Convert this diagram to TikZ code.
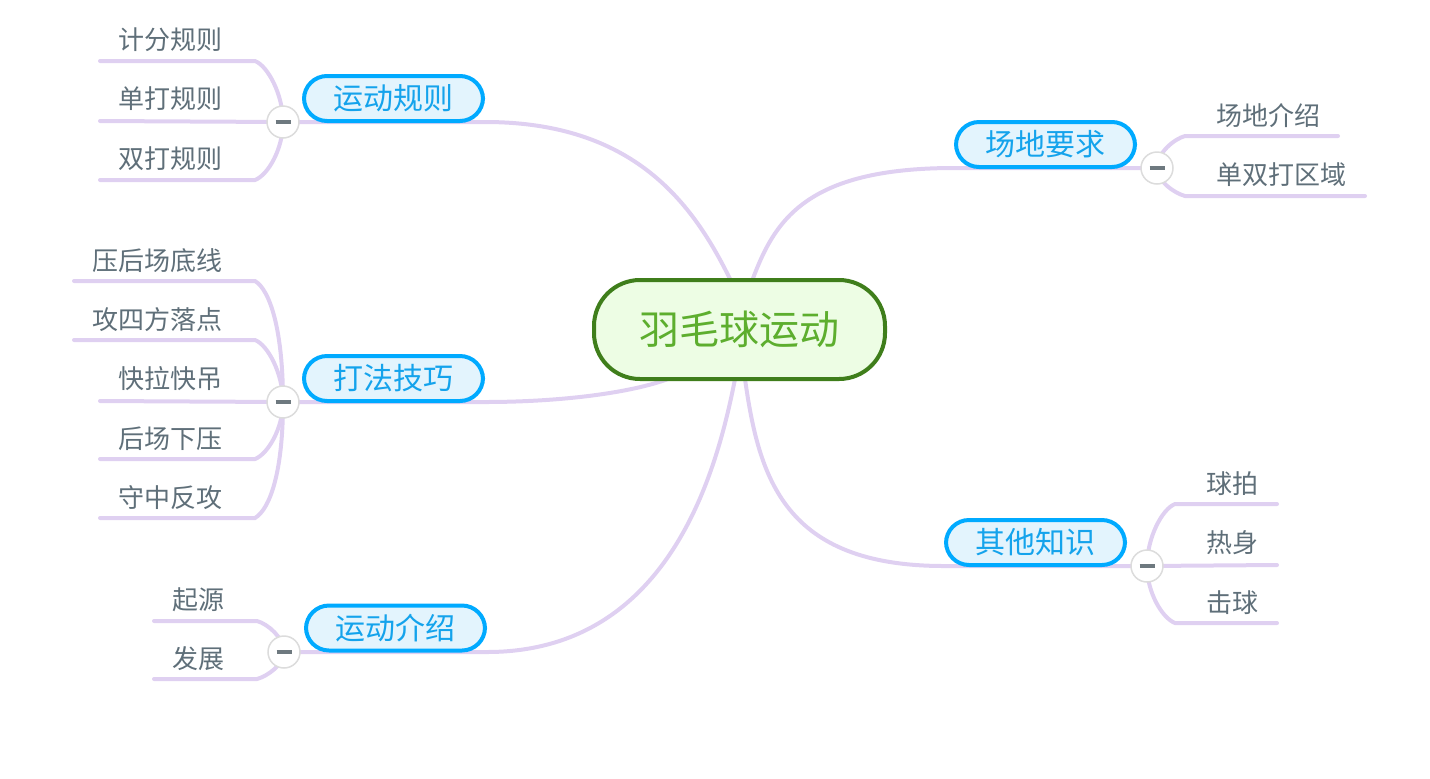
\documentclass[tikz,border=0pt]{standalone}
\usepackage{fontspec}
\setmainfont{Noto Sans CJK SC}
\pgfdeclarelayer{bg}
\pgfsetlayers{bg,main}
\definecolor{linec}{HTML}{DFD0F1}
\definecolor{topicborder}{HTML}{00AAFF}
\definecolor{topicfill}{HTML}{E3F4FD}
\definecolor{topictext}{HTML}{14A3EC}
\definecolor{rootborder}{HTML}{3F7E1B}
\definecolor{rootfill}{HTML}{EDFDE4}
\definecolor{roottext}{HTML}{5DAE2E}
\definecolor{subtext}{HTML}{5F6F79}
\definecolor{ringc}{HTML}{DCDCDC}
\definecolor{minusc}{HTML}{6E797F}
\begin{document}
\begin{tikzpicture}[x=0.5pt,y=-0.5pt,
  rootbox/.style={draw=rootborder, fill=rootfill, line width=2pt, rounded corners=23pt,
    minimum width=145.5pt, minimum height=49.5pt, inner sep=0pt, text=roottext,
    font=\fontsize{20pt}{20pt}\selectfont},
  topic/.style={draw=topicborder, fill=topicfill, line width=2pt, rounded corners=11.5pt,
    minimum width=89.5pt, minimum height=22.5pt, inner sep=0pt, text=topictext,
    font=\fontsize{15pt}{15pt}\selectfont},
  subl/.style={inner sep=0pt, text=subtext, font=\fontsize{13pt}{13pt}\selectfont, anchor=east},
  subr/.style={inner sep=0pt, text=subtext, font=\fontsize{13pt}{13pt}\selectfont, anchor=west},
  ring/.style={circle, draw=ringc, fill=white, line width=0.75pt, minimum size=16pt, inner sep=0pt,
    path picture={\draw[minusc, line width=1.8pt]
      ([xshift=-3.75pt]path picture bounding box.center) -- ([xshift=3.75pt]path picture bounding box.center);}},
  link/.style={draw=linec, line width=2pt, line cap=round}
]
\useasboundingbox (0,0) rectangle (1430,778);

% root and topics
\node[rootbox] (root) at (739.5,329.5) {羽毛球运动};
\node[topic] (t1) at (393.5,98.5) {运动规则};
\node[topic] (t2) at (393.5,378.5) {打法技巧};
\node[topic] (t3) at (395.5,628) {运动介绍};
\node[topic] (t4) at (1045.5,144.5) {场地要求};
\node[topic] (t5) at (1035.5,542.5) {其他知识};

% collapse rings
\node[ring] (c1) at (283,122) {};
\node[ring] (c2) at (283,402) {};
\node[ring] (c3) at (284,652) {};
\node[ring] (c4) at (1157,168) {};
\node[ring] (c5) at (1147,566) {};

% subtopic texts
\node[subl] (k11) at (223,40) {计分规则};
\node[subl] (k12) at (223,99) {单打规则};
\node[subl] (k13) at (223,159) {双打规则};
\node[subl] (k21) at (223,261) {压后场底线};
\node[subl] (k22) at (223,320) {攻四方落点};
\node[subl] (k23) at (223,379) {快拉快吊};
\node[subl] (k24) at (223,439) {后场下压};
\node[subl] (k25) at (223,498) {守中反攻};
\node[subl] (k31) at (225,600) {起源};
\node[subl] (k32) at (225,659) {发展};
\node[subr] (k41) at (1216,116) {场地介绍};
\node[subr] (k42) at (1216,175) {单双打区域};
\node[subr] (k51) at (1206,484) {球拍};
\node[subr] (k52) at (1206,543) {热身};
\node[subr] (k53) at (1206,603) {击球};

% underline coordinates
\coordinate (u11) at (255,61);  \coordinate (v11) at (100,61);
\coordinate (v12) at (100,121);
\coordinate (u13) at (255,180); \coordinate (v13) at (100,180);
\coordinate (u21) at (255,281); \coordinate (v21) at (74,281);
\coordinate (u22) at (255,340); \coordinate (v22) at (74,340);
\coordinate (v23) at (100,401);
\coordinate (u24) at (255,459); \coordinate (v24) at (100,459);
\coordinate (u25) at (255,518); \coordinate (v25) at (100,518);
\coordinate (u31) at (257,621); \coordinate (v31) at (154,621);
\coordinate (u32) at (257,679); \coordinate (v32) at (154,679);
\coordinate (u41) at (1185,136); \coordinate (v41) at (1338,136);
\coordinate (u42) at (1185,196); \coordinate (v42) at (1365,196);
\coordinate (u51) at (1175,504); \coordinate (v51) at (1277,504);
\coordinate (v52) at (1277,565);
\coordinate (u53) at (1175,623); \coordinate (v53) at (1277,623);

% main branch coordinates
\coordinate (a1) at (485,122);  \coordinate (r1) at (731,281);
\coordinate (a2) at (485,402);  \coordinate (r2) at (668,379);
\coordinate (a3) at (487,652);  \coordinate (r3) at (735,379);
\coordinate (a4) at (954,168);  \coordinate (r4) at (752,281);
\coordinate (a5) at (944,566);  \coordinate (r5) at (745,379);

\begin{pgfonlayer}{bg}
  % main branches
  \draw[link] (c1.center) -- (a1) .. controls (634,122) and (693,203) .. (r1);
  \draw[link] (c2.center) -- (a2) .. controls (560,402) and (630,393) .. (r2);
  \draw[link] (c3.center) -- (a3) .. controls (667,652) and (716,476) .. (r3);
  \draw[link] (c4.center) -- (a4) .. controls (804,168) and (774,222) .. (r4);
  \draw[link] (c5.center) -- (a5) .. controls (784,566) and (759,478) .. (r5);
  % sub branches: 运动规则
  \draw[link] (c1.center) .. controls +(0,-27) and +(13,5) .. (u11) -- (v11);
  \draw[link] (c1.center) -- (v12);
  \draw[link] (c1.center) .. controls +(0,27) and +(13,-5) .. (u13) -- (v13);
  % 打法技巧
  \draw[link] (c2.center) .. controls +(0,-72) and +(15,9) .. (u21) -- (v21);
  \draw[link] (c2.center) .. controls +(0,-28) and +(13,5) .. (u22) -- (v22);
  \draw[link] (c2.center) -- (v23);
  \draw[link] (c2.center) .. controls +(0,26) and +(13,-5) .. (u24) -- (v24);
  \draw[link] (c2.center) .. controls +(0,70) and +(15,-9) .. (u25) -- (v25);
  % 运动介绍
  \draw[link] (c3.center) .. controls +(0,-14) and +(11,3) .. (u31) -- (v31);
  \draw[link] (c3.center) .. controls +(0,12) and +(11,-3) .. (u32) -- (v32);
  % 场地要求
  \draw[link] (c4.center) .. controls +(0,-15) and +(-11,3) .. (u41) -- (v41);
  \draw[link] (c4.center) .. controls +(0,13) and +(-11,-3) .. (u42) -- (v42);
  % 其他知识
  \draw[link] (c5.center) .. controls +(0,-28) and +(-13,5) .. (u51) -- (v51);
  \draw[link] (c5.center) -- (v52);
  \draw[link] (c5.center) .. controls +(0,26) and +(-13,-5) .. (u53) -- (v53);
\end{pgfonlayer}
\end{tikzpicture}
\end{document}
